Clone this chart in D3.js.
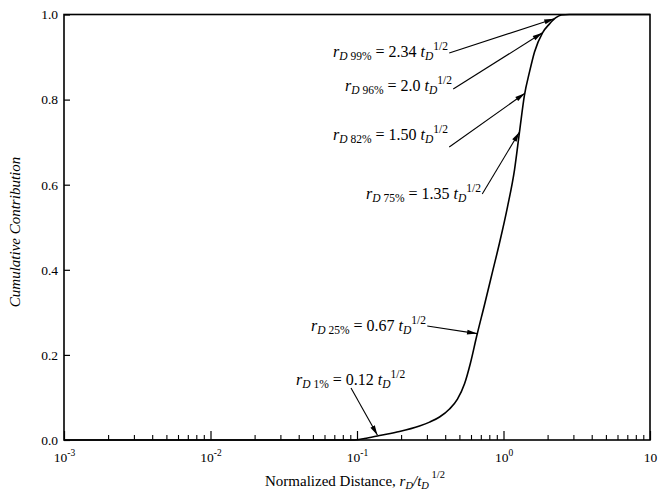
<!DOCTYPE html>
<html><head><meta charset="utf-8">
<script src="https://cdn.jsdelivr.net/npm/d3@7"></script>
<style>
body{margin:0;background:#fff;}
svg{display:block;}
text{font-family:"Liberation Serif","DejaVu Serif",serif;fill:#000;}
</style></head>
<body>
<svg id="chart" width="658" height="493"></svg>
<script>
// ---- data ----
const curveX = [0.001, 0.05, 0.096, 0.1125, 0.1425, 0.195, 0.267, 0.313, 0.366, 0.428, 0.485, 0.542, 0.595, 0.654, 0.742, 0.841, 0.939, 1.065, 1.189, 1.286, 1.391, 1.505, 1.628, 1.846, 2.061, 2.265, 2.489, 2.822, 10];
const curveY = [0, 0, 0, 0.0035, 0.0106, 0.020, 0.033, 0.042, 0.054, 0.073, 0.096, 0.132, 0.181, 0.242, 0.318, 0.395, 0.463, 0.548, 0.635, 0.724, 0.811, 0.865, 0.912, 0.957, 0.978, 0.992, 0.999, 1.0, 1.0];
const xMajorTicks = [0.001, 0.01, 0.1, 1, 10];
const xTickLabels = [["10","-3"],["10","-2"],["10","-1"],["10","0"],["10",""]];
const yTicks = [0, 0.2, 0.4, 0.6, 0.8, 1.0];
const annPct = ["99%", "96%", "82%", "75%", "25%", "1%"];
const annCoef = ["2.34", "2.0", "1.50", "1.35", "0.67", "0.12"];
const annTipX = [2.22, 1.846, 1.40, 1.286, 0.66, 0.138];
const annTipY = [0.99, 0.957, 0.815, 0.724, 0.25, 0.011];

// ---- layout ----
const annLayout = [
  {tx:333, ty:57, dy:-4},
  {tx:345, ty:91, dy:-2},
  {tx:333, ty:140, dy:7},
  {tx:366, ty:199, dy:-5},
  {tx:311, ty:331, dy:-5},
  {tx:296, ty:385, sx:351, sy:388, below:true}
];

const svg = d3.select("#chart");
const L=64, R=650, T=14.5, B=440;
const x = d3.scaleLog().domain([1e-3,10]).range([L,R]);
const y = d3.scaleLinear().domain([0,1]).range([B,T]);

// minor ticks
const minors=[];
for(let e=-3;e<1;e++){for(let k=2;k<=9;k++){minors.push(k*Math.pow(10,e));}}
svg.append("g").attr("transform",`translate(0,${B})`)
  .call(d3.axisBottom(x).tickValues(minors).tickSize(-5).tickFormat(""))
  .call(g=>{g.select(".domain").remove();g.selectAll("line").attr("stroke","#000").attr("stroke-width",1.1);});
// major ticks
const gx = svg.append("g").attr("transform",`translate(0,${B})`)
  .call(d3.axisBottom(x).tickValues(xMajorTicks).tickSize(-9).tickFormat(""));
gx.select(".domain").remove();
gx.selectAll("line").attr("stroke","#000").attr("stroke-width",1.2);
gx.selectAll(".tick").each(function(d,i){
  const t=d3.select(this).append("text").attr("y",22).attr("text-anchor","middle").attr("font-size",13.5);
  t.append("tspan").text(xTickLabels[i][0]);
  if(xTickLabels[i][1]) t.append("tspan").attr("font-size",9.5).attr("dy",-6).text(xTickLabels[i][1]);
});

// y axis
const gy = svg.append("g").attr("transform",`translate(${L},0)`)
  .call(d3.axisLeft(y).tickValues(yTicks).tickSize(-6).tickPadding(6).tickFormat(d3.format(".1f")));
gy.select(".domain").remove();
gy.selectAll("line").attr("stroke","#000").attr("stroke-width",1.2);
gy.selectAll("text").attr("font-size",13.5).attr("font-family","Liberation Serif").attr("fill","#000");

// frame
svg.append("rect").attr("x",L).attr("y",T).attr("width",R-L).attr("height",B-T)
  .attr("fill","none").attr("stroke","#000").attr("stroke-width",1.6);

// curve
const pts = curveX.map((v,i)=>[v,curveY[i]]);
svg.append("path").datum(pts)
  .attr("d",d3.line().x(d=>x(d[0])).y(d=>y(d[1])).curve(d3.curveMonotoneX))
  .attr("fill","none").attr("stroke","#000").attr("stroke-width",1.6);

// arrow marker
svg.append("defs").append("marker").attr("id","ah").attr("viewBox","0 0 10 6")
  .attr("refX",10).attr("refY",3).attr("markerWidth",11).attr("markerHeight",6)
  .attr("markerUnits","userSpaceOnUse").attr("orient","auto")
  .append("path").attr("d","M0,0.5 L10,3 L0,5.5 Z").attr("fill","#000");

// annotations
annPct.forEach((p,i)=>{
  const lay=annLayout[i];
  const t=svg.append("text").attr("x",lay.tx).attr("y",lay.ty).attr("font-size",16);
  t.append("tspan").attr("font-style","italic").text("r");
  t.append("tspan").attr("font-style","italic").attr("font-size",11.5).attr("dy",3).text("D");
  t.append("tspan").attr("font-size",11.5).text(" "+p);
  t.append("tspan").attr("dy",-3).text(" = "+annCoef[i]+" ");
  t.append("tspan").attr("font-style","italic").text("t");
  t.append("tspan").attr("font-style","italic").attr("font-size",11.5).attr("dy",3).text("D");
  t.append("tspan").attr("font-size",11.5).attr("dy",-10).text("1/2");
  const bb=t.node().getBBox();
  let sx, sy;
  if(lay.below){ sx=lay.sx; sy=lay.sy; }
  else { sx=bb.x+bb.width+1; sy=lay.ty+lay.dy; }
  svg.append("line").attr("x1",sx).attr("y1",sy)
    .attr("x2",x(annTipX[i])).attr("y2",y(annTipY[i]))
    .attr("stroke","#000").attr("stroke-width",1.1).attr("marker-end","url(#ah)");
});

// axis titles
const xt=svg.append("text").attr("x",355).attr("y",486).attr("text-anchor","middle").attr("font-size",15);
xt.append("tspan").text("Normalized Distance, ");
xt.append("tspan").attr("font-style","italic").text("r");
xt.append("tspan").attr("font-style","italic").attr("font-size",10.5).attr("dy",3).text("D");
xt.append("tspan").attr("font-style","italic").attr("dy",-3).text("/t");
xt.append("tspan").attr("font-style","italic").attr("font-size",10.5).attr("dy",3).text("D");
xt.append("tspan").attr("font-size",10.5).attr("dy",-11).text(" 1/2");

svg.append("text").attr("transform","translate(20,232) rotate(-90)").attr("text-anchor","middle")
  .attr("font-size",15).attr("font-style","italic").text("Cumulative Contribution");
</script>
</body></html>
